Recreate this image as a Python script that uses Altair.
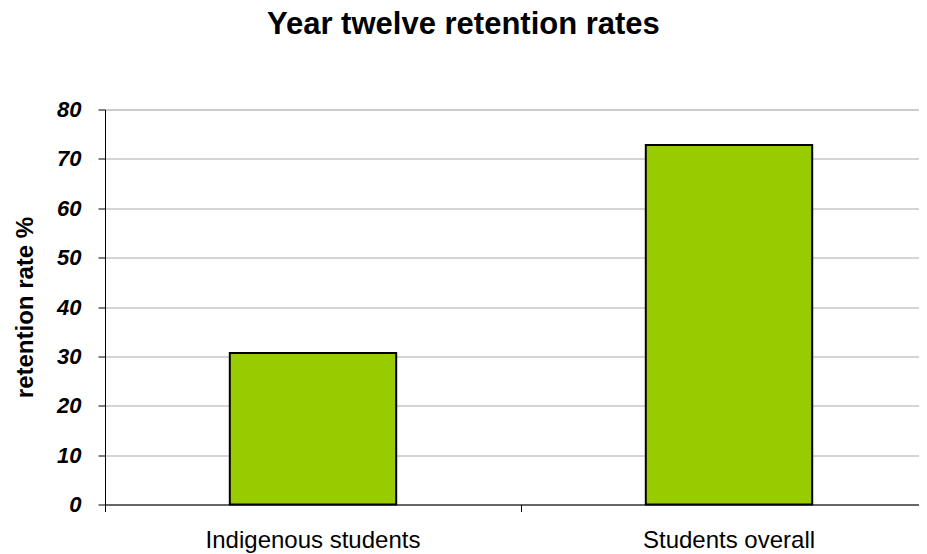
import altair as alt
import pandas as pd

categories = ["Indigenous students", "Students overall"]
values = [30.7, 72.8]

df = pd.DataFrame({"group": categories, "rate": values})

W = 814          # visible plot width (page is narrower than the reference plot)
XR = 832         # full category range, running past the right edge like the reference
H = 395
FONT = "Liberation Sans"

bars = alt.Chart(df).mark_bar(
    width={"band": 0.4}, color="#99CC00", stroke="black", strokeWidth=2
).encode(
    x=alt.X(
        "group:N",
        sort=categories,
        scale=alt.Scale(paddingInner=0, paddingOuter=0, range=[0, XR]),
        axis=alt.Axis(
            title=None,
            labelAngle=0,
            labelFont=FONT,
            labelFontSize=24,
            labelColor="black",
            labelPadding=17,
            labelLimit=0,
            bandPosition=0,
            tickSize=7,
            tickColor="black",
            domainColor="black",
            grid=False,
        ),
    ),
    y=alt.Y(
        "rate:Q",
        scale=alt.Scale(domain=[0, 80], nice=False),
        axis=alt.Axis(
            title="retention rate %",
            values=list(range(0, 81, 10)),
            titleFont=FONT,
            titleFontSize=24,
            titleFontWeight="bold",
            titleColor="black",
            titleAngle=270,
            titleX=-80,
            titleY=H / 2,
            titleAlign="center",
            titleBaseline="middle",
            labelFont=FONT,
            labelFontSize=22,
            labelFontWeight="bold",
            labelFontStyle="italic",
            labelColor="black",
            labelPadding=17,
            tickSize=7,
            tickColor="black",
            domainColor="black",
            gridColor="#aaaaaa",
            gridWidth=1,
        ),
    ),
)

chart = bars.properties(
    width=W,
    height=H,
    autosize=alt.AutoSizeParams(type="none"),
    padding={"left": 97, "top": 101.5, "right": 0, "bottom": 49.5},
    title=alt.TitleParams(
        "Year twelve retention rates",
        font=FONT,
        fontSize=31,
        fontWeight="bold",
        color="black",
        anchor="start",
        frame="group",
        dx=162,
        dy=-53.5,
    ),
).configure_view(stroke=None).configure(background="white")

chart.save("out.html", embed_options={"renderer": "svg", "actions": False})
